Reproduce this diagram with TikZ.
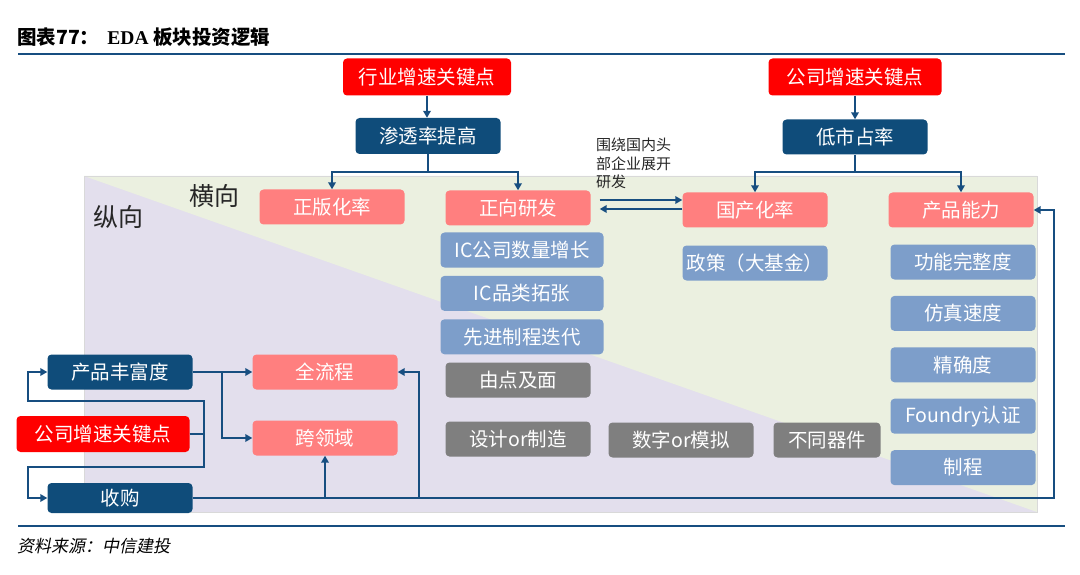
\documentclass[tikz,border=0pt]{standalone}
\usepackage{fontspec}
\setmainfont{Noto Sans CJK SC}
\newfontfamily\srcfont{Noto Sans CJK SC}[FakeSlant=0.2]
\newfontfamily\titlelatin{Liberation Serif}
\usetikzlibrary{arrows.meta, positioning, calc}
\tikzset{
    flowbox/.style={rectangle, fill=#1, rounded corners=4pt, text=white, inner sep=0pt, minimum width=145pt, minimum height=35pt, font=\fontsize{19.5}{22}\selectfont},
    flowline/.style={draw=linenavy, line width=2.4pt},
    flowarrow/.style={flowline, -{Triangle[length=7pt,width=7.5pt]}},
    sidelabel/.style={font=\fontsize{25}{28}\selectfont, text=black!85, inner sep=0pt},
    notelabel/.style={font=\fontsize{15}{18.5}\selectfont, text=black!85, align=left, inner sep=0pt}
}
\definecolor{keyred}{RGB}{255,0,0}
\definecolor{deepnavy}{RGB}{15,76,122}
\definecolor{linenavy}{RGB}{23,78,128}
\definecolor{salmonpink}{RGB}{255,127,127}
\definecolor{steelblue}{RGB}{125,158,202}
\definecolor{midgray}{RGB}{127,127,127}
\definecolor{paleolive}{RGB}{235,240,224}
\definecolor{palelilac}{RGB}{227,223,237}

\begin{document}
\begin{tikzpicture}[x=1pt, y=-1pt]
\useasboundingbox (0,0) rectangle (1080,575);

\fill[palelilac] (84,176) rectangle (1037,512);
\fill[paleolive] (84,176) -- (1037,176) -- (1037,512) -- cycle;
\draw[black!15, line width=0.8pt] (84,176) rectangle (1037,512);
\draw[linenavy, line width=2.5pt] (18,54) -- (1065,54);
\draw[linenavy, line width=2pt] (18,526) -- (1065,526);

\node[anchor=west, inner sep=0pt, font=\fontsize{19.5}{22}\selectfont\bfseries] (title) at (17,37) {图表77：\hspace{8pt}{\titlelatin EDA} 板块投资逻辑};
\node[anchor=west, inner sep=0pt, font=\srcfont\fontsize{17}{20}\selectfont] (source) at (17,546) {资料来源：中信建投};

\node[flowbox=keyred, minimum width=168pt, minimum height=37pt] (indkey) at (427,77) {行业增速关键点};
\node[flowbox=deepnavy, minimum height=36pt] (pen) at (428,136) {渗透率提高};
\node[flowbox=keyred, minimum width=173pt, minimum height=37pt] (cokey) at (855,77) {公司增速关键点};
\node[flowbox=deepnavy] (lowshare) at (855,137) {低市占率};

\node[flowbox=salmonpink] (legal) at (332,207) {正版化率};
\node[flowbox=salmonpink] (fwdrd) at (518,208) {正向研发};
\node[flowbox=salmonpink] (domestic) at (755,210) {国产化率};
\node[flowbox=salmonpink] (prodcap) at (961,210) {产品能力};

\node[flowbox=steelblue, minimum width=163pt] (icnum) at (522,250) {IC公司数量增长};
\node[flowbox=steelblue, minimum width=163pt, below=8pt of icnum] (iccat) {IC品类拓张};
\node[flowbox=steelblue, minimum width=163pt, below=8pt of iccat] (icnode) {先进制程迭代};
\node[flowbox=steelblue] (policy) at (755,263) {政策（大基金）};

\node[flowbox=steelblue] (func) at (963,262) {功能完整度};
\node[flowbox=steelblue, below=16pt of func] (simspeed) {仿真速度};
\node[flowbox=steelblue, below=16pt of simspeed] (accu) {精确度};
\node[flowbox=steelblue, below=16pt of accu] (foundry) {Foundry认证};
\node[flowbox=steelblue, below=16pt of foundry] (procnode) {制程};

\node[flowbox=midgray] (dotface) at (518,380) {由点及面};
\node[flowbox=midgray] (desman) at (518,439) {设计or制造};
\node[flowbox=midgray] (digana) at (681,440) {数字or模拟};
\node[flowbox=midgray, minimum width=107pt] (devices) at (827,440) {不同器件};

\node[flowbox=deepnavy] (richness) at (120,372) {产品丰富度};
\node[flowbox=keyred, minimum width=173pt, minimum height=36pt] (cokeyleft) at (103,434) {公司增速关键点};
\node[flowbox=deepnavy, minimum height=30pt] (acquire) at (120,498) {收购};
\node[flowbox=salmonpink] (fullflow) at (325,372) {全流程};
\node[flowbox=salmonpink] (crossdom) at (325,438) {跨领域};

\node[sidelabel] (horiz) at (214,196) {横向};
\node[sidelabel] (vert) at (118,217) {纵向};
\node[notelabel, anchor=base west] (note) at (596,188) {围绕国内头\\部企业展开\\研发};

\coordinate (penfork) at (428,172);
\coordinate (lowfork) at (855,172);
\coordinate (brktop) at (204,401);
\coordinate (brkbot) at (204,467);
\coordinate (looptop) at (28,401);
\coordinate (loopbot) at (28,467);
\coordinate (richfork) at (222,372);
\coordinate (trailjoin) at (419,498);
\coordinate (trailend) at (1054,498);

\draw[flowarrow] (indkey.south) -- (indkey.south |- pen.north);
\draw[flowarrow] (pen.south) -- (penfork) -| (legal.north);
\draw[flowarrow] (penfork) -| (fwdrd.north);
\draw[flowarrow] (cokey.south) -- (cokey.south |- lowshare.north);
\draw[flowarrow] (lowshare.south) -- (lowfork) -| (domestic.north);
\draw[flowarrow] (lowfork) -| (prodcap.north);

\draw[flowarrow] ($(fwdrd.east)+(9,-8)$) -- ($(fwdrd.east -| domestic.west)+(0,-8)$);
\draw[flowarrow] ($(fwdrd.east -| domestic.west)+(0,1)$) -- ($(fwdrd.east)+(9,1)$);

\draw[flowarrow] (cokeyleft.east) -| (brktop) -- (looptop) |- (richness.west);
\draw[flowarrow] (cokeyleft.east) -| (brkbot) -- (loopbot) |- (acquire.west);
\draw[flowarrow] (richness.east) -- (fullflow.west);
\draw[flowarrow] (richfork) |- (crossdom.west);

\draw[flowarrow] (acquire.east) -- (trailend) |- (prodcap.east);
\draw[flowarrow] (crossdom.south |- acquire.east) -- (crossdom.south);
\draw[flowarrow] (trailjoin) |- (fullflow.east);

\end{tikzpicture}
\end{document}
